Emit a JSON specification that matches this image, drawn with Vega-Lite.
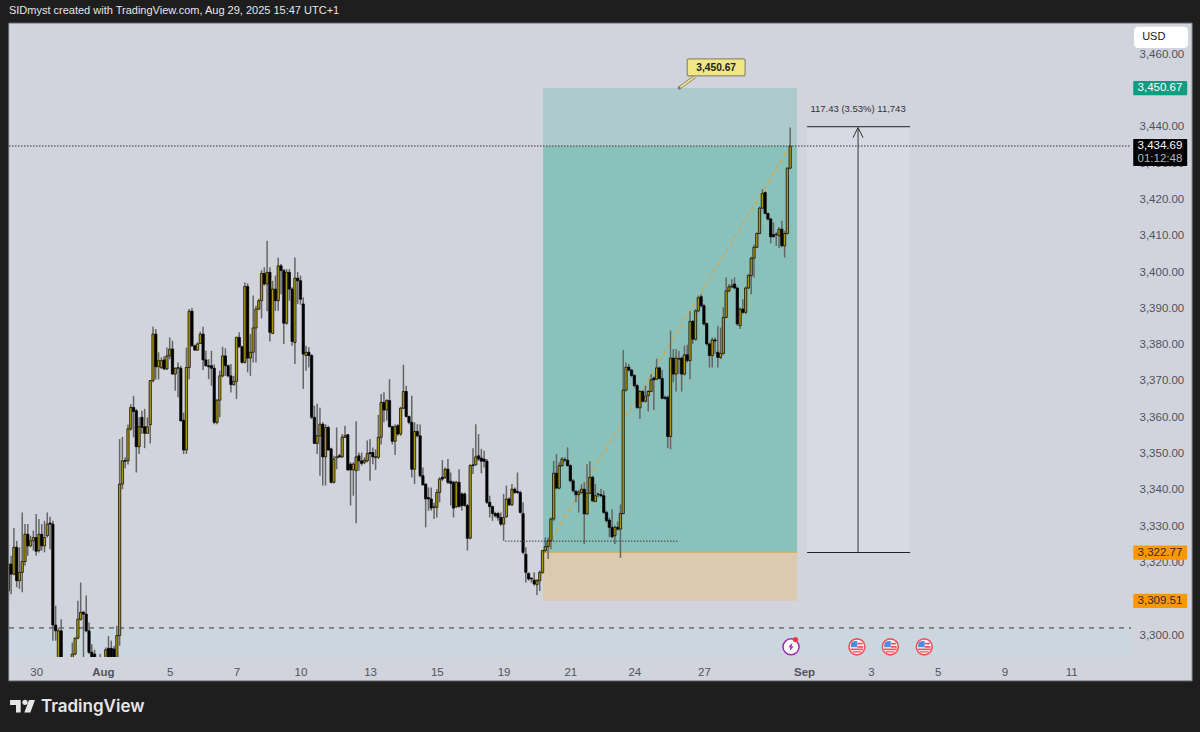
{
"$schema":"https://vega.github.io/schema/vega-lite/v6.json",
"autosize":{"type":"none"},
"padding":{"left":9,"top":23,"right":69,"bottom":75},
"width":1122,
"height":634,
"background":"#d1d4dc",
"config":{"view":{"stroke":null},"text":{"font":"Liberation Sans"}},
"datasets":{
"candles":[
{"bar":0,"open":3312.2,"high":3320,"low":3309.5,"close":3319.6},
{"bar":1,"open":3319.6,"high":3321.9,"low":3311.3,"close":3316.8},
{"bar":2,"open":3316.8,"high":3329.5,"low":3316.5,"close":3324.2},
{"bar":3,"open":3324.2,"high":3326,"low":3313.2,"close":3315},
{"bar":4,"open":3315,"high":3324.2,"low":3312.7,"close":3317.3},
{"bar":5,"open":3317.3,"high":3333.8,"low":3311.8,"close":3320.3},
{"bar":6,"open":3320.3,"high":3330.6,"low":3319.1,"close":3327.8},
{"bar":7,"open":3327.8,"high":3330.6,"low":3321.9,"close":3324.6},
{"bar":8,"open":3324.6,"high":3327.4,"low":3324.2,"close":3326},
{"bar":9,"open":3326,"high":3328.8,"low":3323.3,"close":3326.9},
{"bar":10,"open":3326.9,"high":3333.4,"low":3321.9,"close":3323.1},
{"bar":11,"open":3323.3,"high":3332,"low":3322.8,"close":3327.8},
{"bar":12,"open":3327.8,"high":3330.6,"low":3323.3,"close":3324.6},
{"bar":13,"open":3324.6,"high":3331.5,"low":3322.8,"close":3326.9},
{"bar":14,"open":3327.4,"high":3333.8,"low":3326.9,"close":3330.6},
{"bar":15,"open":3330.9,"high":3332.6,"low":3323.7,"close":3330.6},
{"bar":16,"open":3330.6,"high":3331.5,"low":3298.5,"close":3302.8},
{"bar":17,"open":3302.8,"high":3308.1,"low":3298.5,"close":3301.2},
{"bar":18,"open":3290,"high":3302,"low":3285,"close":3301.2},
{"bar":19,"open":3301.2,"high":3304.4,"low":3285,"close":3288},
{"bar":20,"open":3288,"high":3291,"low":3284,"close":3286},
{"bar":21,"open":3286,"high":3291,"low":3284,"close":3288},
{"bar":22,"open":3288,"high":3292,"low":3286,"close":3289},
{"bar":23,"open":3290,"high":3298,"low":3288,"close":3294.8},
{"bar":24,"open":3294.8,"high":3299.4,"low":3294.5,"close":3299.2},
{"bar":25,"open":3299.2,"high":3309.5,"low":3298.9,"close":3304.4},
{"bar":26,"open":3304.4,"high":3314.5,"low":3304,"close":3306.3},
{"bar":27,"open":3306.3,"high":3306.7,"low":3293.9,"close":3305.8},
{"bar":28,"open":3305.8,"high":3310.9,"low":3300.8,"close":3301.2},
{"bar":29,"open":3301.2,"high":3303.5,"low":3294.8,"close":3295.3},
{"bar":30,"open":3295.3,"high":3297.5,"low":3291,"close":3293.9},
{"bar":31,"open":3294.8,"high":3296,"low":3288,"close":3291},
{"bar":32,"open":3291,"high":3293,"low":3287,"close":3289},
{"bar":33,"open":3291,"high":3294.8,"low":3288,"close":3290},
{"bar":34,"open":3290,"high":3292,"low":3288,"close":3291},
{"bar":35,"open":3290,"high":3296.6,"low":3288,"close":3296},
{"bar":36,"open":3296.4,"high":3299.8,"low":3289,"close":3291},
{"bar":37,"open":3296.4,"high":3298.5,"low":3289,"close":3291},
{"bar":38,"open":3296.2,"high":3297,"low":3290,"close":3292},
{"bar":39,"open":3293.9,"high":3302.6,"low":3292,"close":3299.9},
{"bar":40,"open":3299.9,"high":3354,"low":3297.1,"close":3341.6},
{"bar":41,"open":3341.6,"high":3354.6,"low":3340.2,"close":3348},
{"bar":42,"open":3348.1,"high":3349,"low":3346,"close":3347.9},
{"bar":43,"open":3348,"high":3358,"low":3347,"close":3356.8},
{"bar":44,"open":3356.8,"high":3363.6,"low":3356.3,"close":3362.7},
{"bar":45,"open":3362.7,"high":3365.9,"low":3354.5,"close":3361.6},
{"bar":46,"open":3361.8,"high":3362.3,"low":3344.8,"close":3351.9},
{"bar":47,"open":3351.9,"high":3360,"low":3349.9,"close":3357.4},
{"bar":48,"open":3360,"high":3361.8,"low":3355.4,"close":3357.2},
{"bar":49,"open":3357.4,"high":3362.3,"low":3351.5,"close":3355.6},
{"bar":50,"open":3355.6,"high":3360,"low":3355.4,"close":3357.4},
{"bar":51,"open":3357.9,"high":3370.3,"low":3352.8,"close":3370.1},
{"bar":52,"open":3370.1,"high":3384.9,"low":3369.6,"close":3382.9},
{"bar":53,"open":3382.9,"high":3384.3,"low":3370.4,"close":3373.9},
{"bar":54,"open":3373.9,"high":3377.9,"low":3370.4,"close":3375.6},
{"bar":55,"open":3373.7,"high":3376.5,"low":3373.3,"close":3375.6},
{"bar":56,"open":3375.8,"high":3376.9,"low":3373,"close":3373.3},
{"bar":57,"open":3373.3,"high":3379.2,"low":3373,"close":3376.9},
{"bar":58,"open":3376.9,"high":3382,"low":3376,"close":3378.8},
{"bar":59,"open":3378.8,"high":3381.1,"low":3371.7,"close":3371.9},
{"bar":60,"open":3371.9,"high":3373.7,"low":3367.3,"close":3373.5},
{"bar":61,"open":3373.5,"high":3375.1,"low":3365.5,"close":3373.7},
{"bar":62,"open":3373.5,"high":3374.2,"low":3358.9,"close":3359},
{"bar":63,"open":3359.2,"high":3361.3,"low":3349.9,"close":3351},
{"bar":64,"open":3351,"high":3379.2,"low":3349.9,"close":3373.7},
{"bar":65,"open":3373.7,"high":3389.8,"low":3370.5,"close":3389.2},
{"bar":66,"open":3389.2,"high":3390.1,"low":3379.4,"close":3379.7},
{"bar":67,"open":3379.7,"high":3380,"low":3378.3,"close":3378.5},
{"bar":68,"open":3378.5,"high":3380.6,"low":3378.3,"close":3380.2},
{"bar":69,"open":3380.3,"high":3383.6,"low":3380.2,"close":3382.9},
{"bar":70,"open":3382.9,"high":3384.9,"low":3373,"close":3375.8},
{"bar":71,"open":3375.8,"high":3378.3,"low":3374,"close":3374.2},
{"bar":72,"open":3374.2,"high":3376,"low":3370.5,"close":3373.9},
{"bar":73,"open":3374.2,"high":3378.3,"low":3368.7,"close":3373.5},
{"bar":74,"open":3373.5,"high":3374.5,"low":3358.1,"close":3358.6},
{"bar":75,"open":3358.6,"high":3365,"low":3358.1,"close":3364.7},
{"bar":76,"open":3364.7,"high":3372.8,"low":3360,"close":3371.4},
{"bar":77,"open":3371.4,"high":3379.4,"low":3371,"close":3376.9},
{"bar":78,"open":3376.9,"high":3379,"low":3371.4,"close":3374.2},
{"bar":79,"open":3374.2,"high":3374.5,"low":3371,"close":3371.4},
{"bar":80,"open":3371.4,"high":3374.7,"low":3366.8,"close":3369},
{"bar":81,"open":3369,"high":3371.4,"low":3368.7,"close":3369.9},
{"bar":82,"open":3369.9,"high":3382.2,"low":3365,"close":3382},
{"bar":83,"open":3382,"high":3383.4,"low":3379.2,"close":3379.4},
{"bar":84,"open":3379.4,"high":3379.7,"low":3374.8,"close":3375.1},
{"bar":85,"open":3375.1,"high":3397.1,"low":3374.8,"close":3396},
{"bar":86,"open":3396,"high":3396.9,"low":3372.4,"close":3376.3},
{"bar":87,"open":3376.3,"high":3382.9,"low":3371.4,"close":3377.9},
{"bar":88,"open":3377.9,"high":3393.5,"low":3375.1,"close":3384.6},
{"bar":89,"open":3384.6,"high":3390.7,"low":3375.1,"close":3389.8},
{"bar":90,"open":3389.8,"high":3392.6,"low":3389.5,"close":3392.1},
{"bar":91,"open":3392.1,"high":3400.5,"low":3387.2,"close":3399.6},
{"bar":92,"open":3399.6,"high":3401.3,"low":3396.2,"close":3396.7},
{"bar":93,"open":3396.7,"high":3408.6,"low":3389.2,"close":3399.9},
{"bar":94,"open":3399.9,"high":3401.3,"low":3380.9,"close":3383.4},
{"bar":95,"open":3383.1,"high":3397.6,"low":3382.9,"close":3395.3},
{"bar":96,"open":3395.3,"high":3399,"low":3389.3,"close":3392.1},
{"bar":97,"open":3392.1,"high":3403.9,"low":3389.3,"close":3401.7},
{"bar":98,"open":3401.7,"high":3402.2,"low":3393.9,"close":3400.4},
{"bar":99,"open":3400.4,"high":3400.8,"low":3380.2,"close":3385.9},
{"bar":100,"open":3385.9,"high":3400.8,"low":3385.5,"close":3399.9},
{"bar":101,"open":3399.9,"high":3400.8,"low":3392.1,"close":3395.3},
{"bar":102,"open":3395.3,"high":3395.8,"low":3379.7,"close":3380.9},
{"bar":103,"open":3380.6,"high":3404,"low":3374.7,"close":3398.3},
{"bar":104,"open":3398.3,"high":3400,"low":3391.2,"close":3397.6},
{"bar":105,"open":3397.6,"high":3399,"low":3391,"close":3392.5},
{"bar":106,"open":3391.2,"high":3393,"low":3367.8,"close":3377.4},
{"bar":107,"open":3377,"high":3379.7,"low":3372.8,"close":3377.9},
{"bar":108,"open":3377.9,"high":3379.3,"low":3373.7,"close":3377},
{"bar":109,"open":3377,"high":3377.4,"low":3359.5,"close":3360},
{"bar":110,"open":3360,"high":3363.2,"low":3352.6,"close":3352.8},
{"bar":111,"open":3352.8,"high":3363.7,"low":3349.9,"close":3354.9},
{"bar":112,"open":3354.9,"high":3362.6,"low":3343.9,"close":3358.1},
{"bar":113,"open":3358.1,"high":3358.6,"low":3341.2,"close":3349.1},
{"bar":114,"open":3349.1,"high":3358.1,"low":3341.2,"close":3357.2},
{"bar":115,"open":3357.2,"high":3357.7,"low":3350.8,"close":3351},
{"bar":116,"open":3351.3,"high":3351.6,"low":3341.8,"close":3342.1},
{"bar":117,"open":3342.1,"high":3349.4,"low":3341.8,"close":3348.5},
{"bar":118,"open":3348.8,"high":3357.2,"low":3345.7,"close":3349.1},
{"bar":119,"open":3349.4,"high":3349.9,"low":3348.8,"close":3349.1},
{"bar":120,"open":3349.1,"high":3355.4,"low":3348.8,"close":3354.5},
{"bar":121,"open":3354.5,"high":3357.7,"low":3354.3,"close":3354.9},
{"bar":122,"open":3355.2,"high":3355.4,"low":3345.3,"close":3345.5},
{"bar":123,"open":3347.1,"high":3347.6,"low":3335.7,"close":3345.5},
{"bar":124,"open":3345.5,"high":3347.6,"low":3338.4,"close":3347.1},
{"bar":125,"open":3345.3,"high":3358.9,"low":3330.8,"close":3349.1},
{"bar":126,"open":3349.4,"high":3350.3,"low":3345.3,"close":3348},
{"bar":127,"open":3348,"high":3350.3,"low":3346.7,"close":3347.3},
{"bar":128,"open":3347.6,"high":3349,"low":3347.1,"close":3348.2},
{"bar":129,"open":3348,"high":3353.6,"low":3347.6,"close":3350},
{"bar":130,"open":3350.3,"high":3354,"low":3342.5,"close":3350},
{"bar":131,"open":3350.3,"high":3351.7,"low":3347.1,"close":3349.1},
{"bar":132,"open":3349.1,"high":3351.2,"low":3345.5,"close":3349},
{"bar":133,"open":3349,"high":3360.7,"low":3348.5,"close":3354.5},
{"bar":134,"open":3354.5,"high":3366.4,"low":3352.5,"close":3364.1},
{"bar":135,"open":3364.1,"high":3366.9,"low":3358.6,"close":3362},
{"bar":136,"open":3362,"high":3365,"low":3359.1,"close":3364.6},
{"bar":137,"open":3364.6,"high":3370.5,"low":3357.2,"close":3357.4},
{"bar":138,"open":3357.4,"high":3357.7,"low":3352.5,"close":3353.4},
{"bar":139,"open":3353.4,"high":3358.1,"low":3349.6,"close":3357.4},
{"bar":140,"open":3357.7,"high":3358.1,"low":3354.9,"close":3355.4},
{"bar":141,"open":3355.4,"high":3362.9,"low":3354.9,"close":3362.5},
{"bar":142,"open":3362.5,"high":3374.5,"low":3362.3,"close":3367.1},
{"bar":143,"open":3367.1,"high":3368.7,"low":3360,"close":3360.2},
{"bar":144,"open":3360.2,"high":3360.5,"low":3358.1,"close":3358.6},
{"bar":145,"open":3358.6,"high":3365.9,"low":3343.4,"close":3345.7},
{"bar":146,"open":3345.7,"high":3358.6,"low":3341.6,"close":3356.1},
{"bar":147,"open":3356.1,"high":3358.1,"low":3354.5,"close":3354.9},
{"bar":148,"open":3354.9,"high":3358,"low":3343.5,"close":3343.9},
{"bar":149,"open":3343.9,"high":3346.2,"low":3341.2,"close":3341.4},
{"bar":150,"open":3341.6,"high":3341.8,"low":3329.7,"close":3337.5},
{"bar":151,"open":3337.9,"high":3340.7,"low":3334.3,"close":3337.5},
{"bar":152,"open":3337.5,"high":3340.7,"low":3334.3,"close":3335},
{"bar":153,"open":3335.2,"high":3336.5,"low":3332,"close":3335.4},
{"bar":154,"open":3335.2,"high":3340.2,"low":3332.4,"close":3339.3},
{"bar":155,"open":3339.3,"high":3343.5,"low":3336.6,"close":3343},
{"bar":156,"open":3343.5,"high":3348.2,"low":3342.5,"close":3343},
{"bar":157,"open":3343.5,"high":3346.2,"low":3343,"close":3345.7},
{"bar":158,"open":3345.7,"high":3348.5,"low":3341.6,"close":3342.1},
{"bar":159,"open":3342.4,"high":3344.8,"low":3335.7,"close":3341.8},
{"bar":160,"open":3342.1,"high":3342.5,"low":3332.4,"close":3335},
{"bar":161,"open":3335.4,"high":3342.5,"low":3335,"close":3342.1},
{"bar":162,"open":3342.1,"high":3345.7,"low":3335.2,"close":3335.4},
{"bar":163,"open":3338.9,"high":3339.3,"low":3334.3,"close":3335.7},
{"bar":164,"open":3338.9,"high":3339.3,"low":3335.4,"close":3335.7},
{"bar":165,"open":3335.7,"high":3336.1,"low":3323.3,"close":3326.7},
{"bar":166,"open":3326.7,"high":3347.1,"low":3326.4,"close":3346.7},
{"bar":167,"open":3346.9,"high":3351.5,"low":3344.4,"close":3346.7},
{"bar":168,"open":3346.9,"high":3358.1,"low":3346.7,"close":3349.1},
{"bar":169,"open":3349.4,"high":3355.4,"low":3348,"close":3348.5},
{"bar":170,"open":3348.8,"high":3351.3,"low":3344.6,"close":3347.9},
{"bar":171,"open":3348.5,"high":3350.8,"low":3346.2,"close":3347.9},
{"bar":172,"open":3347.9,"high":3348.5,"low":3336.1,"close":3336.6},
{"bar":173,"open":3336.6,"high":3338.4,"low":3332.4,"close":3335.4},
{"bar":174,"open":3335.4,"high":3335.7,"low":3331.5,"close":3333.5},
{"bar":175,"open":3333.5,"high":3334,"low":3332.4,"close":3332.9},
{"bar":176,"open":3333.5,"high":3334,"low":3331.5,"close":3332.4},
{"bar":177,"open":3332.4,"high":3333.8,"low":3330.1,"close":3330.6},
{"bar":178,"open":3330.6,"high":3338.9,"low":3326,"close":3332.4},
{"bar":179,"open":3332.6,"high":3341.2,"low":3332.4,"close":3337.5},
{"bar":180,"open":3337.5,"high":3338,"low":3335.6,"close":3335.9},
{"bar":181,"open":3335.9,"high":3341.6,"low":3335.6,"close":3340.2},
{"bar":182,"open":3340.2,"high":3340.7,"low":3338.9,"close":3339.3},
{"bar":183,"open":3339.6,"high":3344.8,"low":3338.9,"close":3339.3},
{"bar":184,"open":3339.3,"high":3339.8,"low":3333.5,"close":3333.8},
{"bar":185,"open":3333.5,"high":3336.6,"low":3322.3,"close":3322.8},
{"bar":186,"open":3322.3,"high":3324.2,"low":3314.5,"close":3317.3},
{"bar":187,"open":3317,"high":3317.3,"low":3315,"close":3315.5},
{"bar":188,"open":3315.7,"high":3315.9,"low":3314.5,"close":3315.5},
{"bar":189,"open":3315.2,"high":3317.3,"low":3313.6,"close":3314.1},
{"bar":190,"open":3313.9,"high":3315.5,"low":3311.1,"close":3315},
{"bar":191,"open":3315,"high":3317.8,"low":3312.2,"close":3317.3},
{"bar":192,"open":3317.3,"high":3323.5,"low":3316.9,"close":3323.3},
{"bar":193,"open":3323.3,"high":3326.9,"low":3322.8,"close":3324.4},
{"bar":194,"open":3324.4,"high":3326.9,"low":3321,"close":3326},
{"bar":195,"open":3326,"high":3332.4,"low":3323.7,"close":3332},
{"bar":196,"open":3332,"high":3348,"low":3331.5,"close":3344.6},
{"bar":197,"open":3344.6,"high":3349.9,"low":3340.2,"close":3340.5},
{"bar":198,"open":3340.5,"high":3347.6,"low":3340.2,"close":3346.7},
{"bar":199,"open":3346.7,"high":3349,"low":3346.4,"close":3348.5},
{"bar":200,"open":3348.2,"high":3349,"low":3347.6,"close":3348.4},
{"bar":201,"open":3348.2,"high":3351.7,"low":3346.4,"close":3346.7},
{"bar":202,"open":3346.7,"high":3347.1,"low":3342.1,"close":3342.5},
{"bar":203,"open":3342.5,"high":3343,"low":3339.3,"close":3339.8},
{"bar":204,"open":3339.6,"high":3340,"low":3336.6,"close":3338.7},
{"bar":205,"open":3338.7,"high":3340,"low":3333.8,"close":3339.4},
{"bar":206,"open":3339.3,"high":3341.6,"low":3338.9,"close":3340.2},
{"bar":207,"open":3340.2,"high":3342.1,"low":3325.1,"close":3333.4},
{"bar":208,"open":3333.4,"high":3347.1,"low":3333.2,"close":3339.1},
{"bar":209,"open":3339.1,"high":3347.9,"low":3338.9,"close":3343.5},
{"bar":210,"open":3343.5,"high":3343.9,"low":3336.6,"close":3337},
{"bar":211,"open":3336.8,"high":3341.6,"low":3336.6,"close":3338.4},
{"bar":212,"open":3338.7,"high":3339.3,"low":3338,"close":3338.9},
{"bar":213,"open":3338.7,"high":3340.3,"low":3338,"close":3338.4},
{"bar":214,"open":3338.4,"high":3339.8,"low":3333.4,"close":3333.8},
{"bar":215,"open":3333.8,"high":3334.3,"low":3331.1,"close":3331.5},
{"bar":216,"open":3331.7,"high":3332.4,"low":3327,"close":3329.7},
{"bar":217,"open":3329.7,"high":3334.7,"low":3326.7,"close":3327.1},
{"bar":218,"open":3327.4,"high":3330.2,"low":3325.1,"close":3329.7},
{"bar":219,"open":3329.7,"high":3331.3,"low":3328.8,"close":3329.2},
{"bar":220,"open":3329.2,"high":3336,"low":3321.3,"close":3333.5},
{"bar":221,"open":3333.5,"high":3378.5,"low":3333.3,"close":3367.5},
{"bar":222,"open":3367.5,"high":3375.1,"low":3367.1,"close":3373.8},
{"bar":223,"open":3373.8,"high":3374.7,"low":3372.6,"close":3373},
{"bar":224,"open":3373,"high":3373.3,"low":3371,"close":3371.5},
{"bar":225,"open":3371.5,"high":3371.9,"low":3368.2,"close":3368.7},
{"bar":226,"open":3368.7,"high":3369.2,"low":3362.3,"close":3362.7},
{"bar":227,"open":3362.6,"high":3367.5,"low":3359.5,"close":3367.1},
{"bar":228,"open":3367.1,"high":3367.5,"low":3364.1,"close":3364.4},
{"bar":229,"open":3364.4,"high":3368.7,"low":3364.1,"close":3365.8},
{"bar":230,"open":3366,"high":3367.5,"low":3361.6,"close":3367.1},
{"bar":231,"open":3367.1,"high":3371.9,"low":3366.9,"close":3370.3},
{"bar":232,"open":3370.8,"high":3371.2,"low":3362,"close":3370.3},
{"bar":233,"open":3370.5,"high":3376.1,"low":3370.3,"close":3373.6},
{"bar":234,"open":3373.6,"high":3374,"low":3370.4,"close":3370.7},
{"bar":235,"open":3370.7,"high":3373,"low":3365,"close":3365.2},
{"bar":236,"open":3365.5,"high":3366,"low":3364.8,"close":3365.2},
{"bar":237,"open":3365.5,"high":3366,"low":3351.5,"close":3354.7},
{"bar":238,"open":3354.7,"high":3383.9,"low":3351.2,"close":3376.3},
{"bar":239,"open":3376.3,"high":3378.8,"low":3369.6,"close":3371.9},
{"bar":240,"open":3371.9,"high":3378.8,"low":3367.1,"close":3376.3},
{"bar":241,"open":3376,"high":3378.3,"low":3371.9,"close":3376.2},
{"bar":242,"open":3376.3,"high":3376.7,"low":3367.1,"close":3371.9},
{"bar":243,"open":3371.9,"high":3379.7,"low":3371.5,"close":3377.2},
{"bar":244,"open":3377.2,"high":3380,"low":3375.1,"close":3375.6},
{"bar":245,"open":3375.6,"high":3389.2,"low":3370.5,"close":3386.4},
{"bar":246,"open":3386.4,"high":3386.8,"low":3380.2,"close":3381.5},
{"bar":247,"open":3381.5,"high":3389.8,"low":3381.1,"close":3389.3},
{"bar":248,"open":3389.3,"high":3393.5,"low":3388.9,"close":3392.9},
{"bar":249,"open":3393.2,"high":3393.9,"low":3390.2,"close":3390.7},
{"bar":250,"open":3390.7,"high":3391.2,"low":3385.2,"close":3385.7},
{"bar":251,"open":3385.8,"high":3386.1,"low":3379.7,"close":3380.2},
{"bar":252,"open":3380.2,"high":3380.6,"low":3373.7,"close":3377},
{"bar":253,"open":3377,"high":3382,"low":3373.7,"close":3381.3},
{"bar":254,"open":3381.3,"high":3382,"low":3377.4,"close":3381},
{"bar":255,"open":3377.9,"high":3385.2,"low":3373.7,"close":3376.5},
{"bar":256,"open":3376.5,"high":3384.7,"low":3376,"close":3377.6},
{"bar":257,"open":3377.6,"high":3390.3,"low":3377.2,"close":3387.5},
{"bar":258,"open":3387.5,"high":3398.5,"low":3387.3,"close":3394.8},
{"bar":259,"open":3394.8,"high":3396.7,"low":3394.4,"close":3395.9},
{"bar":260,"open":3395.9,"high":3398,"low":3395.6,"close":3396.2},
{"bar":261,"open":3396.7,"high":3398.5,"low":3395.3,"close":3395.6},
{"bar":262,"open":3395.6,"high":3396,"low":3385.2,"close":3385.7},
{"bar":263,"open":3385.2,"high":3390.2,"low":3384.3,"close":3389.8},
{"bar":264,"open":3389.8,"high":3392.5,"low":3388.4,"close":3388.9},
{"bar":265,"open":3388.9,"high":3396,"low":3388.4,"close":3395.6},
{"bar":266,"open":3395.6,"high":3399.5,"low":3395.3,"close":3399},
{"bar":267,"open":3399,"high":3404.2,"low":3393.9,"close":3403.8},
{"bar":268,"open":3403.8,"high":3407.5,"low":3398.5,"close":3406.8},
{"bar":269,"open":3406.8,"high":3410.9,"low":3406.6,"close":3410.6},
{"bar":270,"open":3410.6,"high":3418,"low":3410.4,"close":3417.6},
{"bar":271,"open":3417.6,"high":3422.8,"low":3417.3,"close":3421.6},
{"bar":272,"open":3421.9,"high":3422.2,"low":3415.9,"close":3416.1},
{"bar":273,"open":3416.1,"high":3416.4,"low":3414.1,"close":3414.6},
{"bar":274,"open":3414.6,"high":3414.9,"low":3407.9,"close":3409.7},
{"bar":275,"open":3410.3,"high":3413.7,"low":3409.5,"close":3409.7},
{"bar":276,"open":3410.3,"high":3411,"low":3407.2,"close":3410.4},
{"bar":277,"open":3410,"high":3412.3,"low":3406.6,"close":3411.8},
{"bar":278,"open":3411.8,"high":3414.1,"low":3406.8,"close":3407.2},
{"bar":279,"open":3407.2,"high":3411.3,"low":3404,"close":3410.6},
{"bar":280,"open":3410.6,"high":3428.8,"low":3410.3,"close":3428.6},
{"bar":281,"open":3428.6,"high":3439.8,"low":3428.3,"close":3434.7}
],
"frame":[
{"bar":-3.1,"bar2":428.5,"price":3475.1,"price2":3468.56},
{"bar":-3.1,"bar2":0.1,"price":3475.1,"price2":3273},
{"bar":425.5,"bar2":428.5,"price":3475.1,"price2":3273},
{"bar":-3.1,"bar2":428.5,"price":3287.4,"price2":3273}
],
"panelEdge":[{"bar":0.1,"bar2":425.5,"price":3468.56,"price2":3287.4}],
"lowerBand":[{"bar":0.24,"bar2":403.5,"price":3302,"price2":3294}],
"targetUpper":[{"bar":192.2,"bar2":283.5,"price":3450.67,"price2":3434.69}],
"targetLower":[{"bar":192.2,"bar2":283.5,"price":3434.69,"price2":3322.77}],
"stopZone":[{"bar":192.2,"bar2":283.5,"price":3322.77,"price2":3309.51}],
"entryLine":[{"bar":192.2,"bar2":283.5,"price":3322.77}],
"measureZone":[{"bar":287.1,"bar2":324.1,"price":3440,"price2":3322.77}],
"measureLines":[
{"bar":287.1,"bar2":324.1,"price":3440},
{"bar":287.1,"bar2":324.1,"price":3322.77}
],
"measureShaft":[{"bar":305.4,"price":3322.77,"price2":3439.6}],
"arrowHead":[
{"bar":303.6,"price":3437},
{"bar":305.4,"price":3439.8},
{"bar":307.2,"price":3437}
],
"path":[{"bar":192.2,"price":3322.77},{"bar":281,"price":3434.69}],
"lastPrice":[{"bar":0.24,"bar2":403.5,"price":3434.69}],
"level":[{"bar":0.24,"bar2":403.5,"price":3302}],
"swing":[{"bar":178.5,"bar2":241,"price":3325.9}],
"calloutStem":[{"bar":241.1,"price":3450.67},{"bar":246.8,"price":3453.8}],
"calloutDot":[{"bar":241.1,"price":3450.67}],
"calloutBox":[{"bar":244,"bar2":264.8,"price":3458.7,"price2":3454}],
"calloutText":[{"bar":254.4,"price":3456.3,"label":"3,450.67"}],
"measureText":[{"bar":305.4,"price":3444.9,"label":"117.43 (3.53%) 11,743"}],
"greenTag":[{"bar":404.3,"bar2":423.7,"price":3452.6,"price2":3448.7}],
"greenText":[{"bar":413.9,"price":3450.67,"label":"3,450.67"}],
"orangeTag":[
{"bar":404.3,"bar2":423.7,"price":3324.7,"price2":3320.8},
{"bar":404.3,"bar2":423.7,"price":3311.4,"price2":3307.5}
],
"orangeText":[
{"bar":413.9,"price":3322.77,"label":"3,322.77"},
{"bar":413.9,"price":3309.51,"label":"3,309.51"}
],
"blackTag":[{"bar":404.3,"bar2":423.7,"price":3436.6,"price2":3429.2}],
"priceText":[{"bar":413.9,"price":3434.6,"label":"3,434.69"}],
"countdownText":[{"bar":413.9,"price":3431.2,"label":"01:12:48"}],
"usdBox":[{"bar":404.6,"bar2":424,"price":3467.5,"price2":3461.7}],
"usdText":[{"bar":407.5,"price":3464.6,"label":"USD"}],
"header":[{"bar":0.2,"price":3471.9,"label":"SIDmyst created with TradingView.com, Aug 29, 2025 15:47 UTC+1"}],
"brand":[{"bar":11.7,"price":3280.2,"label":"TradingView"}],
"logo":[{"bar":5.1,"price":3280.4}],
"usEvents":[{"bar":305,"price":3296.8},{"bar":317,"price":3296.8},{"bar":329.2,"price":3296.8}],
"speech":[{"bar":281.3,"price":3296.8}],
"speechDot":[{"bar":282.9,"price":3298.8}]
},
"encoding":{
"x":{"field":"bar","type":"quantitative","scale":{"domain":[0.24,403.5],"nice":false,"zero":false,"padding":0},
"axis":{"title":null,"orient":"bottom","domain":false,"ticks":false,"grid":false,"labelFont":"Liberation Sans","labelFontSize":11.5,"labelColor":"#50535e","labelPadding":9,"labelOverlap":false,"labelFlush":false,
"values":[10,34,58,82,105,130,154,178,202,225,250,286,310,334,358,382],
"labelExpr":"{'10':'30','34':'Aug','58':'5','82':'7','105':'10','130':'13','154':'15','178':'19','202':'21','225':'24','250':'27','286':'Sep','310':'3','334':'5','358':'9','382':'11'}[datum.label]",
"labelFontWeight":{"condition":{"test":"datum.value == 34 || datum.value == 286","value":"bold"},"value":"normal"}}},
"y":{"field":"price","type":"quantitative","scale":{"domain":[3294,3468.56],"nice":false,"zero":false,"padding":0},
"axis":{"title":null,"orient":"right","domain":false,"ticks":false,"grid":false,"labelFont":"Liberation Sans","labelFontSize":11.5,"labelColor":"#50535e","labelPadding":8,"labelOverlap":false,"labelFlush":false,"format":",.2f",
"values":[3300,3310,3320,3330,3340,3350,3360,3370,3380,3390,3400,3410,3420,3430,3440,3460]}},
"x2":{"field":"bar2"},
"y2":{"field":"price2"}
},
"layer":[
{"data":{"name":"lowerBand"},"mark":{"type":"rect","color":"#ccd6df"}},
{"data":{"name":"targetUpper"},"mark":{"type":"rect","color":"#adcbcd"}},
{"data":{"name":"targetLower"},"mark":{"type":"rect","color":"#8ac1bb"}},
{"data":{"name":"stopZone"},"mark":{"type":"rect","color":"#dbc9b0"}},
{"data":{"name":"entryLine"},"mark":{"type":"rule","color":"#dcb35c","strokeWidth":1},"encoding":{"y2":null}},
{"data":{"name":"measureZone"},"mark":{"type":"rect","color":"#d8dae3"}},
{"data":{"name":"path"},"mark":{"type":"line","color":"#e8a030","strokeWidth":1.2,"strokeDash":[4,4]},"encoding":{"x2":null,"y2":null}},
{"data":{"name":"level"},"mark":{"type":"rule","color":"#3a3a3a","strokeWidth":1,"strokeDash":[5,5]},"encoding":{"y2":null}},
{"data":{"name":"candles"},"mark":{"type":"rule","color":"#666666","strokeWidth":1.5,"clip":true},
"encoding":{"y":{"field":"low"},"x2":null,"y2":{"field":"high"}}},
{"data":{"name":"candles"},"mark":{"type":"bar","size":2.3,"stroke":"#000000","strokeWidth":0.7,"clip":true},
"encoding":{"y":{"field":"open"},"x2":null,"y2":{"field":"close"},
"fill":{"condition":{"test":"datum.close >= datum.open","value":"#ad960a"},"value":"#000000"}}},
{"data":{"name":"swing"},"mark":{"type":"rule","color":"#3a3a3a","strokeWidth":1,"strokeDash":[1.5,1.5]},"encoding":{"y2":null}},
{"data":{"name":"lastPrice"},"mark":{"type":"rule","color":"#333333","strokeWidth":1,"strokeDash":[1.5,1.5]},"encoding":{"y2":null}},
{"data":{"name":"measureLines"},"mark":{"type":"rule","color":"#222222","strokeWidth":1},"encoding":{"y2":null}},
{"data":{"name":"measureShaft"},"mark":{"type":"rule","color":"#333333","strokeWidth":1},"encoding":{"x2":null}},
{"data":{"name":"arrowHead"},"mark":{"type":"line","color":"#333333","strokeWidth":1},"encoding":{"x2":null,"y2":null}},
{"data":{"name":"measureText"},"mark":{"type":"text","fontSize":9.5,"color":"#333333"},"encoding":{"text":{"field":"label"},"x2":null,"y2":null}},
{"data":{"name":"calloutStem"},"mark":{"type":"line","color":"#8d8a70","strokeWidth":3.4},"encoding":{"x2":null,"y2":null}},
{"data":{"name":"calloutStem"},"mark":{"type":"line","color":"#f0e685","strokeWidth":1.6},"encoding":{"x2":null,"y2":null}},
{"data":{"name":"calloutDot"},"mark":{"type":"point","filled":true,"color":"#777777","size":10,"opacity":1},"encoding":{"x2":null,"y2":null}},
{"data":{"name":"calloutBox"},"mark":{"type":"rect","fill":"#f0e685","stroke":"#8d8a70","strokeWidth":1.2,"cornerRadius":2}},
{"data":{"name":"calloutText"},"mark":{"type":"text","fontSize":10.2,"fontWeight":"bold","color":"#222222"},"encoding":{"text":{"field":"label"},"x2":null,"y2":null}},
{"data":{"name":"speech"},"mark":{"type":"point","filled":true,"fill":"#ffffff","stroke":"#9c27b0","strokeWidth":1.5,"size":256,"opacity":1},"encoding":{"x2":null,"y2":null}},
{"data":{"name":"speech"},"mark":{"type":"point","filled":true,"color":"#9c27b0","size":256,"opacity":1,"shape":"M0.2,-0.55L-0.35,0.05H-0.05L-0.2,0.55L0.35,-0.05H0.05Z"},"encoding":{"x2":null,"y2":null}},
{"data":{"name":"speechDot"},"mark":{"type":"point","filled":true,"color":"#f23645","size":28,"opacity":1},"encoding":{"x2":null,"y2":null}},
{"data":{"name":"usEvents"},"mark":{"type":"point","filled":true,"fill":"#ffffff","stroke":"#f0525f","strokeWidth":1.6,"size":256,"opacity":1},"encoding":{"x2":null,"y2":null}},
{"data":{"name":"usEvents"},"mark":{"type":"point","filled":true,"color":"#4a90e2","size":256,"opacity":1,"shape":"M-0.72,-0.5A0.85,0.85 0 0 1 0.05,-0.72V0.05H-0.8Z"},"encoding":{"x2":null,"y2":null}},
{"data":{"name":"usEvents"},"mark":{"type":"point","filled":true,"color":"#f0525f","size":256,"opacity":1,"shape":"M0.05,-0.5H0.7V-0.3H0.05ZM0.05,-0.1H0.8V0.1H0.05ZM-0.8,0.22H0.8V0.42H-0.8ZM-0.55,0.55H0.55V0.7H-0.55Z"},"encoding":{"x2":null,"y2":null}},
{"data":{"name":"frame"},"mark":{"type":"rect","color":"#1e1e1e"}},
{"data":{"name":"panelEdge"},"mark":{"type":"rect","fillOpacity":0,"stroke":"#62646c","strokeWidth":1}},
{"data":{"name":"greenTag"},"mark":{"type":"rect","color":"#0f9d82","cornerRadius":1}},
{"data":{"name":"greenText"},"mark":{"type":"text","fontSize":11.5,"color":"#ffffff"},"encoding":{"text":{"field":"label"},"x2":null,"y2":null}},
{"data":{"name":"orangeTag"},"mark":{"type":"rect","color":"#ff9800","cornerRadius":1}},
{"data":{"name":"orangeText"},"mark":{"type":"text","fontSize":11.5,"color":"#2a2e39"},"encoding":{"text":{"field":"label"},"x2":null,"y2":null}},
{"data":{"name":"blackTag"},"mark":{"type":"rect","color":"#000000","cornerRadius":1}},
{"data":{"name":"priceText"},"mark":{"type":"text","fontSize":11.5,"color":"#ffffff"},"encoding":{"text":{"field":"label"},"x2":null,"y2":null}},
{"data":{"name":"countdownText"},"mark":{"type":"text","fontSize":11.5,"color":"#b8b8b8"},"encoding":{"text":{"field":"label"},"x2":null,"y2":null}},
{"data":{"name":"usdBox"},"mark":{"type":"rect","color":"#ffffff","cornerRadius":4}},
{"data":{"name":"usdText"},"mark":{"type":"text","fontSize":11,"align":"left","color":"#131722"},"encoding":{"text":{"field":"label"},"x2":null,"y2":null}},
{"data":{"name":"header"},"mark":{"type":"text","fontSize":11,"align":"left","color":"#e6e6e6"},"encoding":{"text":{"field":"label"},"x2":null,"y2":null}},
{"data":{"name":"logo"},"mark":{"type":"point","filled":true,"color":"#e6e6e6","size":676,"opacity":1,"shape":"M-0.96,-0.5H-0.14V0.477H-0.5V-0.115H-0.96ZM0.4,-0.31A0.21,0.21 0 1 1 -0.02,-0.31A0.21,0.21 0 1 1 0.4,-0.31ZM0.5,-0.5H0.96L0.6,0.477H0.14Z"},"encoding":{"x2":null,"y2":null}},
{"data":{"name":"brand"},"mark":{"type":"text","fontSize":17,"font":"Inter","fontWeight":600,"align":"left","color":"#e6e6e6"},"encoding":{"text":{"field":"label"},"x2":null,"y2":null}}
]
}
